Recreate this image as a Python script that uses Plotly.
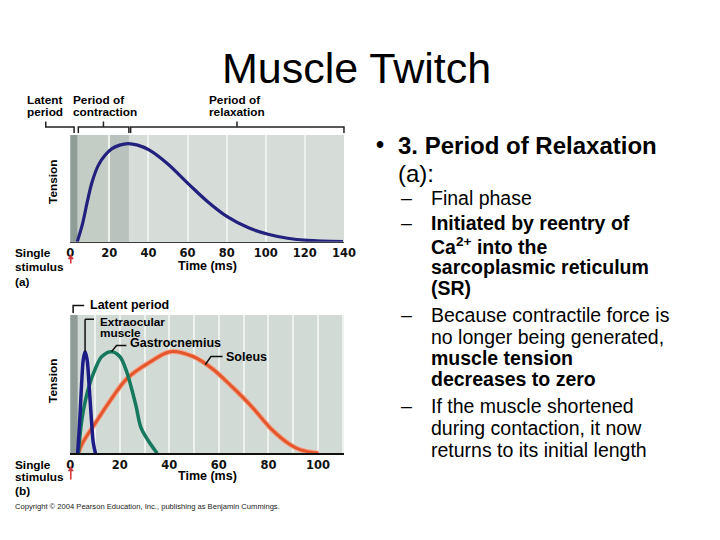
import plotly.graph_objects as go

# ---------------- data ----------------
# (a) single twitch, tension (relative) vs time (ms)
time_a = [3.6, 6.2, 8.7, 11.2, 14.5, 17.8, 21.2, 25.3, 29.5, 34.5, 40.3, 49.5,
          60.3, 70.3, 80.3, 91.2, 101.2, 111.2, 121.2, 139.5]
tension_a = [0.0, 0.16, 0.37, 0.56, 0.72, 0.81, 0.87, 0.905, 0.92, 0.905, 0.86, 0.735,
             0.545, 0.375, 0.235, 0.13, 0.07, 0.032, 0.012, 0.0]

# (b) three muscles
time_eye = [3.0, 3.8, 4.6, 5.3, 6.0, 6.8, 7.6, 8.5, 9.3, 10.2]
tension_eye = [0.0, 0.22, 0.5, 0.68, 0.735, 0.68, 0.5, 0.26, 0.08, 0.0]

time_gas = [3.3, 4.9, 7.5, 10.1, 12.8, 16.7, 20.0, 22.6, 24.6, 26.6, 28.5, 31.2, 35.1]
tension_gas = [0.0, 0.265, 0.48, 0.61, 0.70, 0.735, 0.70, 0.60, 0.48, 0.34, 0.19, 0.10, 0.0]

time_sol = [3.3, 4.9, 10.1, 15.4, 23.0, 32.5, 40.4, 49.6, 57.5, 65.4, 73.3, 81.2, 89.0, 93.0, 100.2]
tension_sol = [0.0, 0.072, 0.217, 0.361, 0.542, 0.663, 0.735, 0.70, 0.61, 0.48, 0.337, 0.175, 0.06, 0.025, 0.0]

ticks_a = [0, 20, 40, 60, 80, 100, 120, 140]
ticks_b = [0, 20, 40, 60, 80, 100]
grid_b = [10, 30, 50, 70, 90, 110]

# phases of chart (a) in ms
latent_a = (0, 3.7)
contraction_a = (3.7, 30)
latent_b = (0, 3.0)

W, H = 720, 540
FONT = "Liberation Sans, Arial, sans-serif"
TICKFONT = "DejaVu Sans, sans-serif"


def px(x):
    return x / W


def py(y):
    return 1 - y / H


def txt(x, y, s, size, bold=False, anchor="left", color="black", angle=0):
    return dict(x=px(x), y=py(y), xref="paper", yref="paper", text=s, showarrow=False,
                xanchor=anchor, yanchor="middle", textangle=angle, borderpad=0,
                font=dict(family=FONT, size=size, color=color,
                          weight="bold" if bold else "normal"))


fig = go.Figure()

# (a) curve
fig.add_trace(go.Scatter(x=time_a, y=tension_a, mode="lines", xaxis="x", yaxis="y",
                         line=dict(color="#22227e", width=3.2, shape="spline", smoothing=1.0),
                         hoverinfo="skip", showlegend=False))
# (b) curves
fig.add_trace(go.Scatter(x=time_sol, y=tension_sol, mode="lines", xaxis="x2", yaxis="y2",
                         line=dict(color="#f3a385", width=5, shape="spline", smoothing=1.0),
                         hoverinfo="skip", showlegend=False))
fig.add_trace(go.Scatter(x=time_sol, y=tension_sol, mode="lines", xaxis="x2", yaxis="y2",
                         line=dict(color="#e4572e", width=3, shape="spline", smoothing=1.0),
                         hoverinfo="skip", showlegend=False))
fig.add_trace(go.Scatter(x=time_gas, y=tension_gas, mode="lines", xaxis="x2", yaxis="y2",
                         line=dict(color="#16785c", width=3.5, shape="spline", smoothing=1.0),
                         hoverinfo="skip", showlegend=False))
fig.add_trace(go.Scatter(x=time_eye, y=tension_eye, mode="lines", xaxis="x2", yaxis="y2",
                         line=dict(color="#1c1c86", width=3.5, shape="spline", smoothing=1.0),
                         hoverinfo="skip", showlegend=False))

tickfont = dict(family=TICKFONT, size=11.5, color="#111", weight="bold")
grid_col = "#eef2ef"

shapes = []
# background bands (a)
shapes.append(dict(type="rect", xref="x", yref="y domain", x0=0, x1=ticks_a[-1], y0=0, y1=1,
                   fillcolor="#d6ddd8", line_width=0, layer="below"))
shapes.append(dict(type="rect", xref="x", yref="y domain", x0=contraction_a[0], x1=20, y0=0, y1=1,
                   fillcolor="#c4ccc6", line_width=0, layer="below"))
shapes.append(dict(type="rect", xref="x", yref="y domain", x0=20, x1=contraction_a[1], y0=0, y1=1,
                   fillcolor="#b9c2bc", line_width=0, layer="below"))
shapes.append(dict(type="rect", xref="x", yref="y domain", x0=latent_a[0], x1=latent_a[1], y0=0, y1=1,
                   fillcolor="#8f9d97", line_width=0, layer="below"))
# background bands (b)
shapes.append(dict(type="rect", xref="x2 domain", yref="y2 domain", x0=0, x1=1, y0=0, y1=1,
                   fillcolor="#d2dad5", line_width=0, layer="below"))
shapes.append(dict(type="rect", xref="x2", yref="y2 domain", x0=latent_b[0], x1=latent_b[1], y0=0, y1=1,
                   fillcolor="#8e9b96", line_width=0, layer="below"))


def ppath(path):
    pts = []
    for seg in path.replace("M", "").split("L"):
        a, b = seg.strip().split(",")
        pts.append((px(float(a)), py(float(b))))
    return "M " + " L ".join(f"{x:.5f},{y:.5f}" for x, y in pts)


# brackets above (a)
bl = dict(color="#222", width=1.5)
for path in [
    "M 42.7,121.5 L 42.7,127 L 71.7,127 L 71.7,133",
    "M 76,133 L 76,127 L 127.7,127 L 127.7,133",
    "M 101.7,127 L 101.7,121.5",
    "M 129.5,133 L 129.5,127 L 347.7,127 L 347.7,133",
    "M 238.3,127 L 238.3,121.5",
]:
    shapes.append(dict(type="path", xref="paper", yref="paper", path=ppath(path), line=bl))

# red stimulus arrows
for tip, tail in [(254.5, 263.5), (466.5, 479.5)]:
    shapes.append(dict(type="line", xref="paper", yref="paper", x0=px(68.3), x1=px(68.3),
                       y0=py(tail), y1=py(tip + 3), line=dict(color="#d23a3a", width=1.6)))
    shapes.append(dict(type="path", xref="paper", yref="paper",
                       path=ppath(f"M 68.3,{tip} L 71,{tip + 4.5} L 65.6,{tip + 4.5} L 68.3,{tip}"),
                       fillcolor="#d23a3a", line=dict(color="#d23a3a", width=0.5)))


# leader lines in (b), anchored at the data
def peak(ts, vs):
    i = max(range(len(vs)), key=lambda k: vs[k])
    return ts[i], vs[i]


lw = dict(color="#111", width=1.5)
# latent period bracket
shapes.append(dict(type="path", xref="paper", yref="paper",
                   path=ppath("M 70.7,313 L 70.7,305.5 L 82,305.5"), line=lw))
# extraocular
te, ve = peak(time_eye, tension_eye)
shapes.append(dict(type="line", xref="x2", yref="y2", x0=te, y0=ve, x1=te, y1=ve + 0.235, line=lw))
shapes.append(dict(type="line", xref="x2", yref="y2", x0=te, y0=ve + 0.235, x1=te + 3.6, y1=ve + 0.235, line=lw))
# gastrocnemius
tg, vg = peak(time_gas, tension_gas)
shapes.append(dict(type="path", xref="x2", yref="y2",
                   path=f"M {tg},{vg} L {tg + 2.0},{vg + 0.045} L {tg + 6.0},{vg + 0.045}", line=lw))
# soleus
shapes.append(dict(type="path", xref="x2", yref="y2",
                   path="M 54.5,0.64 L 56.8,0.70 L 61.5,0.70", line=lw))

LS = 11.8
annotations = [
    txt(360, 68, "Muscle Twitch", 43, anchor="center"),
    # chart (a) labels
    txt(22.5, 100, "Latent", LS, True), txt(22.5, 111.7, "period", LS, True),
    txt(70, 100, "Period of", LS, True), txt(70, 111.7, "contraction", LS, True),
    txt(208.3, 100, "Period of", LS, True), txt(208.3, 111.7, "relaxation", LS, True),
    txt(50, 182, "Tension", LS, True, anchor="center", angle=-90),
    txt(10, 253.3, "Single", LS, True), txt(10, 266.7, "stimulus", LS, True),
    txt(10, 281.7, "(a)", LS, True),
    txt(208, 265.5, "Time (ms)", 12.5, True, anchor="center"),
    # chart (b) labels
    txt(87, 305, "Latent period", 12.5, True),
    txt(96.7, 321.7, "Extraocular", LS, True), txt(96.7, 332.7, "muscle", LS, True),
    txt(128, 343.3, "Gastrocnemius", 12.5, True),
    txt(226, 357.3, "Soleus", 12.5, True),
    txt(50, 381, "Tension", LS, True, anchor="center", angle=-90),
    txt(10, 465, "Single", LS, True), txt(10, 476.7, "stimulus", LS, True),
    txt(10, 490.5, "(b)", LS, True),
    txt(208.3, 475.5, "Time (ms)", 12.5, True, anchor="center"),
    txt(10, 506.7, "Copyright © 2004 Pearson Education, Inc., publishing as Benjamin Cummings.", 7.6,
        color="#222"),
    # right-hand text
    txt(379, 145, "•", 23, True), txt(402, 145, "3. Period of Relaxation", 24, True),
    txt(402, 173.3, "(a):", 24, False),
]

sub_lines = [
    (198.3, "Final phase", False, True),
    (223.3, "Initiated by reentry of", True, True),
    (246, "Ca<sup>2+</sup> into the", True, False),
    (266.7, "sarcoplasmic reticulum", True, False),
    (288.3, "(SR)", True, False),
    (315, "Because contractile force is", False, True),
    (336.7, "no longer being generated,", False, False),
    (358.3, "muscle tension", True, False),
    (379.3, "decreases to zero", True, False),
    (406, "If the muscle shortened", False, True),
    (428.3, "during contaction, it now", False, False),
    (450, "returns to its initial length", False, False),
]
for y, s, b, dash in sub_lines:
    if dash:
        annotations.append(txt(405, y, "–", 19.5))
    annotations.append(txt(436, y, s, 19.5, b))

fig.update_layout(
    width=W, height=H, autosize=False,
    margin=dict(l=0, r=0, t=0, b=0),
    paper_bgcolor="white", plot_bgcolor="#d6ddd8",
    showlegend=False,
    xaxis=dict(domain=[px(67.7), px(347.7)], range=[0, 140], anchor="y",
               tickmode="array", tickvals=ticks_a, ticktext=[str(v) for v in ticks_a],
               showgrid=True, gridcolor=grid_col, gridwidth=2, zeroline=False,
               showline=True, linecolor="#3a3a3a", linewidth=1.2, ticks="", tickfont=tickfont,
               fixedrange=True),
    yaxis=dict(domain=[py(241.7), py(135)], range=[0, 1.0], anchor="x", showgrid=False,
               zeroline=False, showticklabels=False, fixedrange=True),
    xaxis2=dict(domain=[px(67.7), px(347.7)], range=[0, 110.5], anchor="y2",
                tickmode="array", tickvals=ticks_b, ticktext=[str(v) for v in ticks_b],
                showgrid=True, gridcolor=grid_col, gridwidth=2, zeroline=False,
                minor=dict(tickmode="array", tickvals=grid_b, showgrid=True, gridcolor=grid_col,
                           gridwidth=2),
                showline=True, linecolor="#111", linewidth=2, ticks="", tickfont=tickfont,
                fixedrange=True),
    yaxis2=dict(domain=[py(453.3), py(315)], range=[0, 1.0], anchor="x2", showgrid=False,
                zeroline=False, showticklabels=False, fixedrange=True),
    shapes=shapes,
    annotations=annotations,
)

fig.write_html("out.html", config={"displayModeBar": False, "staticPlot": True},
               post_script="document.body.style.margin='0';document.body.style.overflow='hidden';")
